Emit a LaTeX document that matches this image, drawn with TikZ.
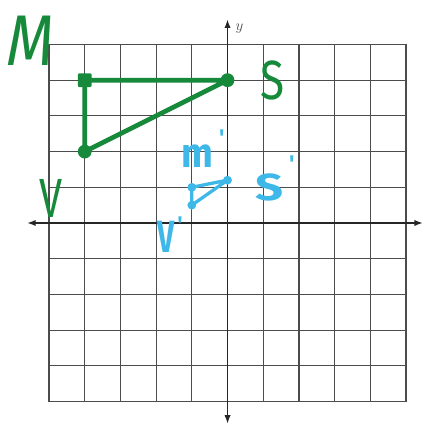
\documentclass[tikz,border=0pt]{standalone}
\usepackage{fontspec}
\setmainfont{Liberation Serif}
\newfontfamily\handfont{Fira Sans}
\usetikzlibrary{arrows.meta}
\definecolor{penGreen}{RGB}{22,138,58}
\definecolor{penBlue}{RGB}{62,184,232}
\tikzset{
  gridline/.style={draw=black!70, line width=0.9pt},
  axisline/.style={draw=black!85, line width=1.5pt, {Latex[length=7pt,width=5pt]}-{Latex[length=7pt,width=5pt]}},
  greenline/.style={draw=penGreen, line width=3.8pt, line cap=round, line join=round},
  blueline/.style={draw=penBlue, line width=2.6pt, line cap=round, line join=round},
  gdot/.style={circle, fill=penGreen, inner sep=0pt, minimum size=11pt},
  gsq/.style={rectangle, fill=penGreen, inner sep=0pt, minimum size=11pt, rounded corners=1pt},
  bdot/.style={circle, fill=penBlue, inner sep=0pt, minimum size=7pt},
  glabel/.style={text=penGreen, font=\handfont\fontsize{44}{44}\selectfont, inner sep=0pt},
  blabel/.style={text=penBlue, font=\handfont\bfseries\fontsize{30}{30}\selectfont, inner sep=0pt},
  bprime/.style={text=penBlue, font=\handfont\bfseries\fontsize{18}{18}\selectfont, inner sep=0pt}
}
\begin{document}
\begin{tikzpicture}
\useasboundingbox[fill=white] (-6.373,-5.714) rectangle (5.532,6.246);
% grid
\foreach \i in {-5,...,5} {
  \draw[gridline] (\i,-5) -- (\i,5);
  \draw[gridline] (-5,\i) -- (5,\i);
}
% axes
\coordinate (xl) at (-5.62,0);
\coordinate (xr) at (5.48,0);
\coordinate (yt) at (0,5.71);
\coordinate (yb) at (0,-5.63);
\draw[axisline] (xl) -- (xr);
\draw[axisline] (yb) -- (yt);
\node[font=\large, text=black!70, anchor=west] (ylab) at (0.1,5.45) {$y$};
% green triangle
\node[gsq] (M) at (-4,4) {};
\node[gdot] (S) at (0,4) {};
\node[gdot] (V) at (-4,2) {};
\draw[greenline] (M.center) -- (S.center) -- (V.center) -- cycle;
\node[glabel, xscale=1.1, yscale=1.3, xslant=0.15] (Mlab) at (-5.5,5.1) {M};
\node[glabel, xscale=0.8] (Slab) at (1.25,4.0) {S};
\node[glabel, xscale=0.75] (Vlab) at (-4.95,0.68) {V};
% blue triangle
\node[bdot] (Mp) at (-1,1) {};
\node[bdot] (Sp) at (0,1.2) {};
\node[bdot] (Vp) at (-1,0.5) {};
\draw[blueline] (Mp.center) -- (Sp.center) -- (Vp.center) -- cycle;
\node[blabel, yscale=1.1] (Mplab) at (-0.85,1.88) {m};
\node[bprime] (Mpp) at (-0.16,2.4) {'};
\node[blabel, xscale=1.3] (Splab) at (1.17,1.0) {S};
\node[bprime] (Spp) at (1.8,1.65) {'};
\node[blabel, xscale=0.8, yscale=1.2] (Vplab) at (-1.72,-0.4) {V};
\node[bprime] (Vpp) at (-1.33,-0.05) {'};
\end{tikzpicture}
\end{document}
